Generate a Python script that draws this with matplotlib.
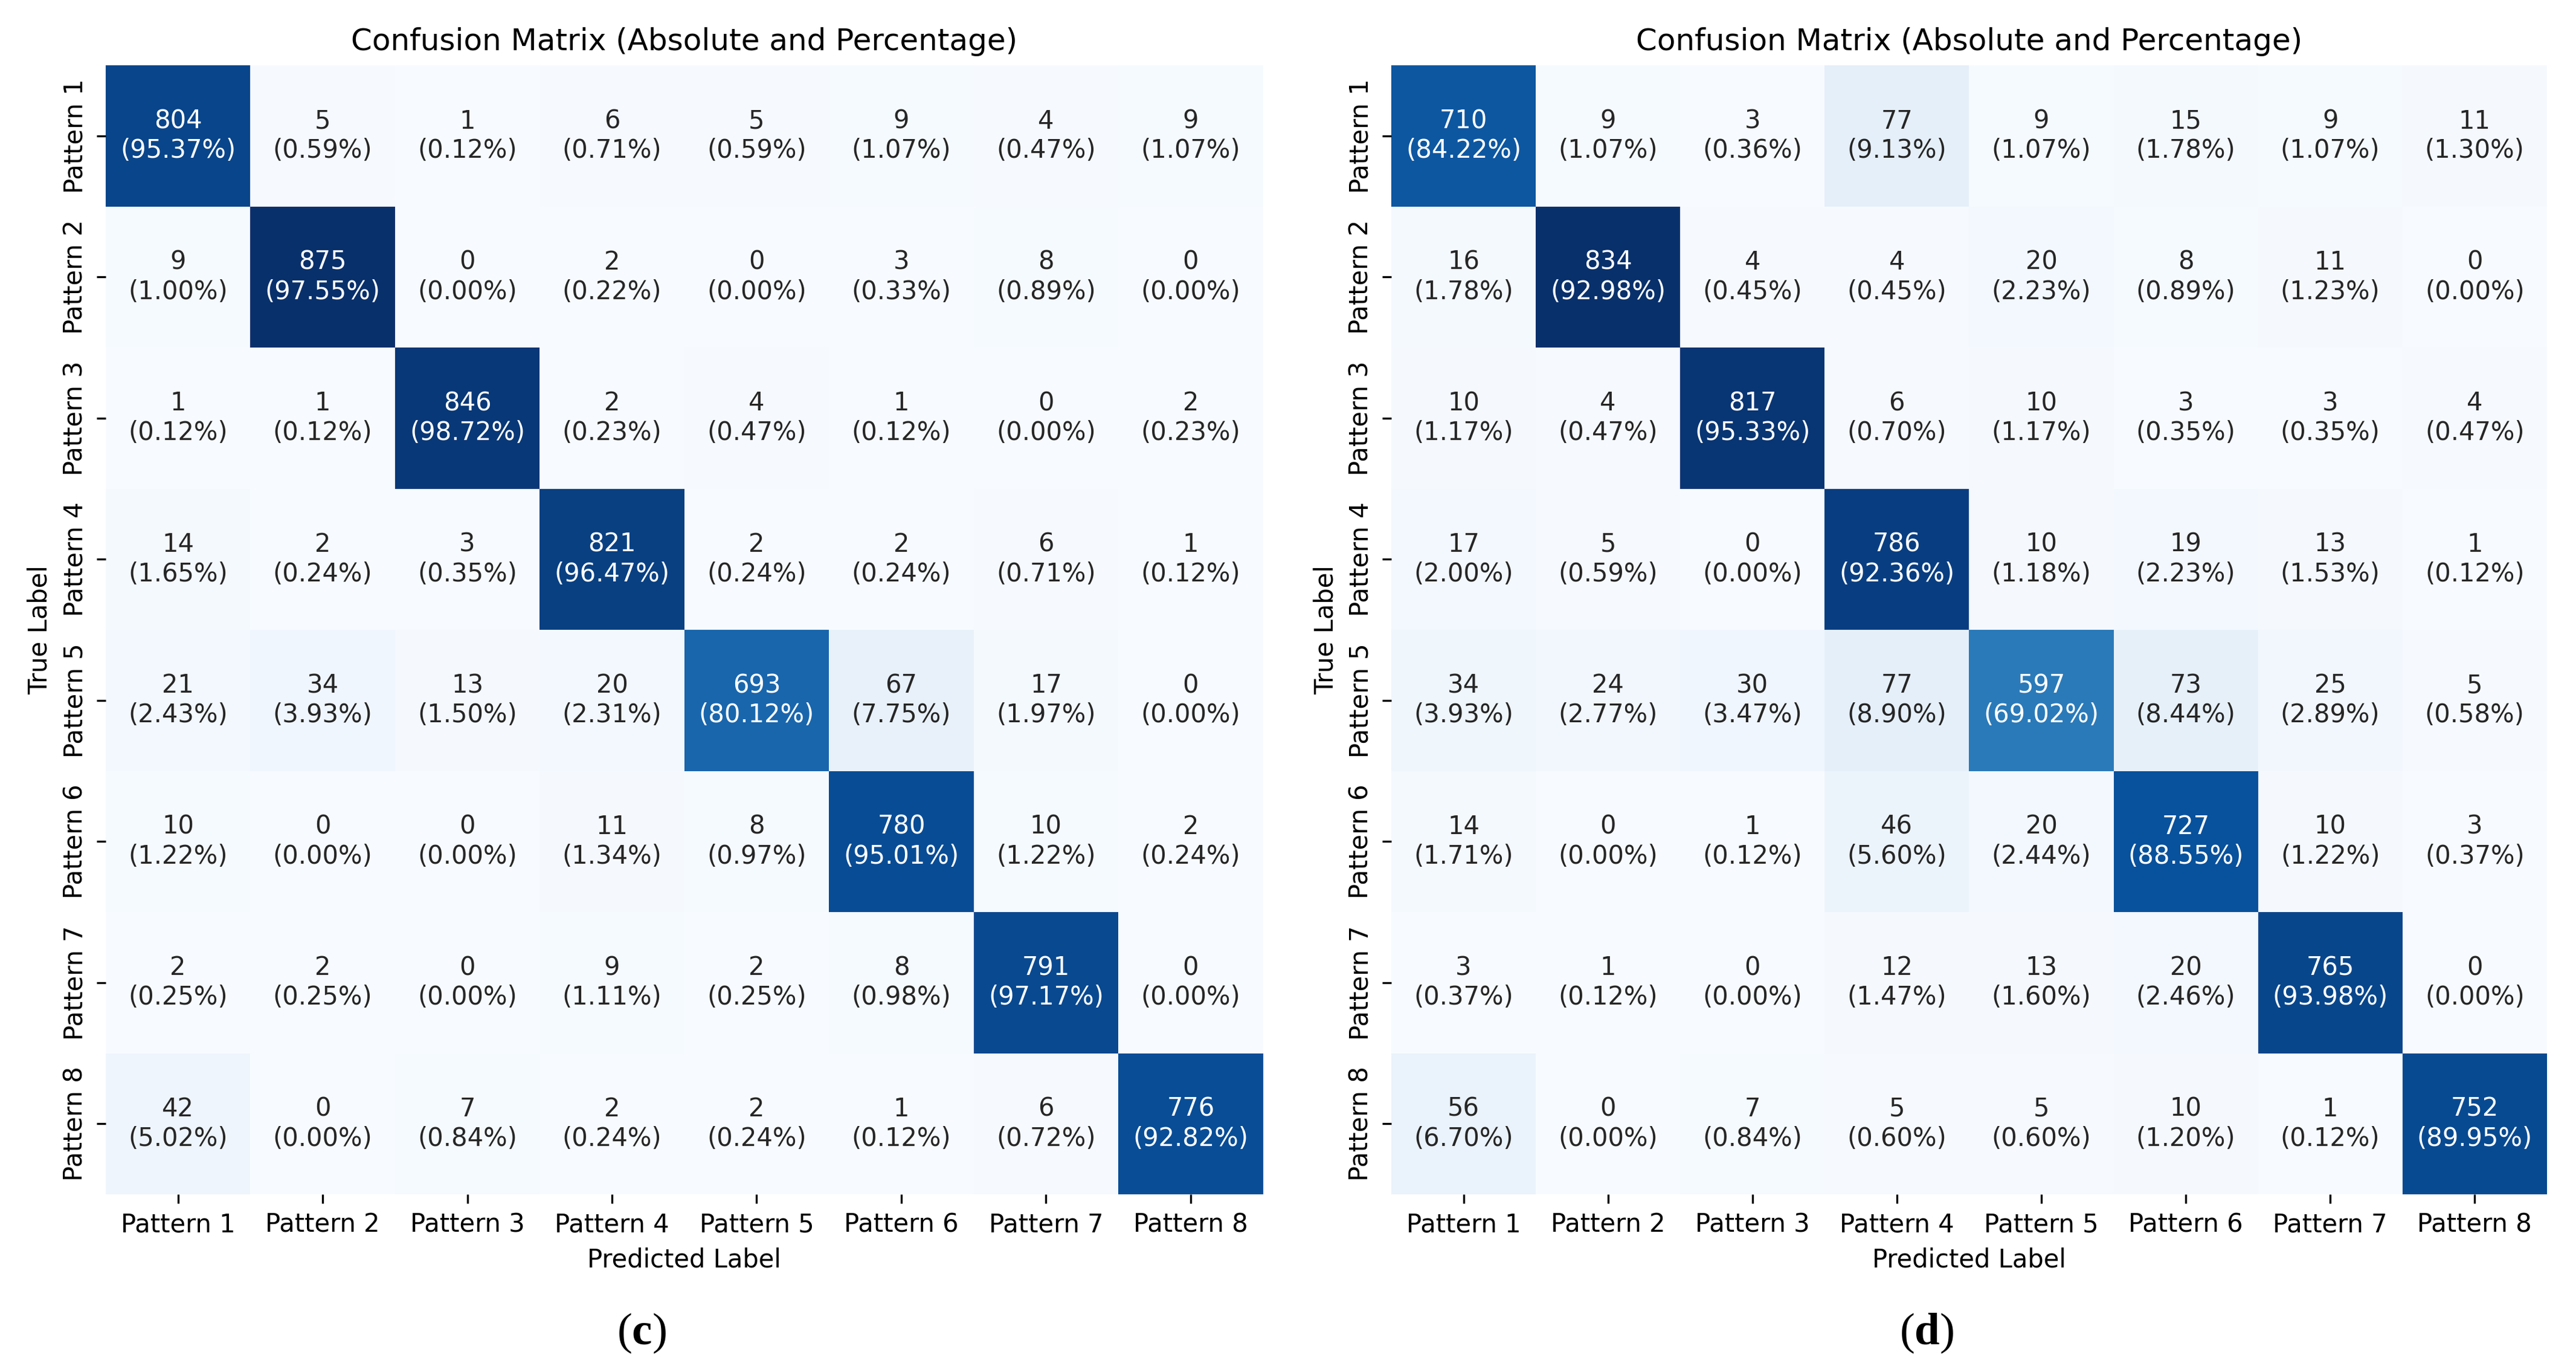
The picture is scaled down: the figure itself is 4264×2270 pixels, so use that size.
import numpy as np
import matplotlib
matplotlib.use("Agg")
import matplotlib.pyplot as plt
import seaborn as sns

labels = ["Pattern 1", "Pattern 2", "Pattern 3", "Pattern 4",
          "Pattern 5", "Pattern 6", "Pattern 7", "Pattern 8"]

cm_c = [
    [804, 5, 1, 6, 5, 9, 4, 9],
    [9, 875, 0, 2, 0, 3, 8, 0],
    [1, 1, 846, 2, 4, 1, 0, 2],
    [14, 2, 3, 821, 2, 2, 6, 1],
    [21, 34, 13, 20, 693, 67, 17, 0],
    [10, 0, 0, 11, 8, 780, 10, 2],
    [2, 2, 0, 9, 2, 8, 791, 0],
    [42, 0, 7, 2, 2, 1, 6, 776],
]

cm_d = [
    [710, 9, 3, 77, 9, 15, 9, 11],
    [16, 834, 4, 4, 20, 8, 11, 0],
    [10, 4, 817, 6, 10, 3, 3, 4],
    [17, 5, 0, 786, 10, 19, 13, 1],
    [34, 24, 30, 77, 597, 73, 25, 5],
    [14, 0, 1, 46, 20, 727, 10, 3],
    [3, 1, 0, 12, 13, 20, 765, 0],
    [56, 0, 7, 5, 5, 10, 1, 752],
]

captions = ["c", "d"]

plt.rcParams['mathtext.fontset'] = 'custom'
plt.rcParams['mathtext.rm'] = 'Liberation Serif'
plt.rcParams['mathtext.bf'] = 'Liberation Serif:bold'


def plot_cm(ax, cm):
    cm = np.array(cm)
    pct = cm / cm.sum(axis=1, keepdims=True) * 100
    annot = np.array([[f"{cm[i, j]}\n({pct[i, j]:.2f}%)" for j in range(cm.shape[1])]
                      for i in range(cm.shape[0])])
    sns.heatmap(cm, annot=annot, fmt="", cmap="Blues", cbar=False,
                xticklabels=labels, yticklabels=labels, ax=ax)
    ax.set_title("Confusion Matrix (Absolute and Percentage)")
    ax.set_xlabel("Predicted Label")
    ax.set_ylabel("True Label")


fig = plt.figure(figsize=(4264 / 300, 2270 / 300), dpi=300)
ax1 = fig.add_axes([0.0410, 0.1295, 0.4493, 0.8229])
ax2 = fig.add_axes([0.5401, 0.1295, 0.4486, 0.8229])

plot_cm(ax1, cm_c)
plot_cm(ax2, cm_d)

fig.text(0.249, 0.0286, r"$(\mathbf{%s})$" % captions[0], fontsize=18, ha='center', va='center')
fig.text(0.748, 0.0286, r"$(\mathbf{%s})$" % captions[1], fontsize=18, ha='center', va='center')

fig.savefig("out.png", dpi=300)
